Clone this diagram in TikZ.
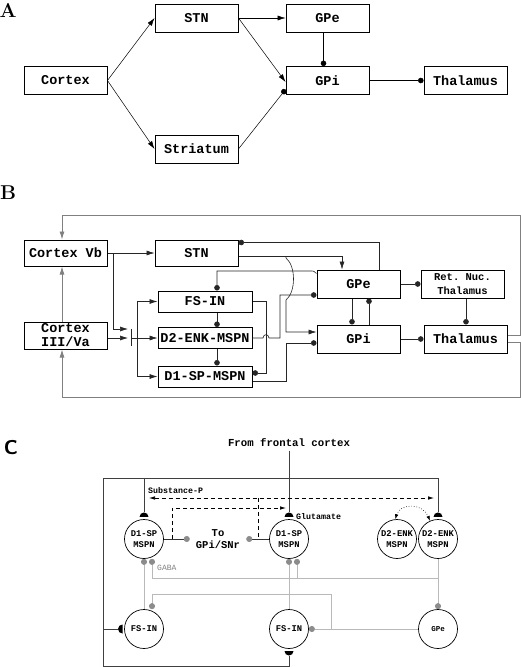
\documentclass[tikz,border=0pt]{standalone}
\usepackage{fontspec}
\setmonofont{Liberation Mono}
\usepackage{tikz}
\usetikzlibrary{positioning}
\usetikzlibrary{arrows.meta,shapes.geometric}

\begin{document}
\begin{tikzpicture}[x=1pt,y=-1pt,
  boxA/.style={draw,line width=0.9pt,inner sep=0pt,minimum width=83pt,minimum height=28pt,font=\fontsize{13.5}{15}\selectfont\ttfamily\bfseries},
  boxB/.style={draw,line width=1pt,inner sep=0pt,minimum width=83pt,minimum height=28pt,align=center,font=\fontsize{13.5}{14}\selectfont\ttfamily\bfseries},
  cell/.style={draw,circle,line width=0.7pt,inner sep=0pt,minimum size=39pt,align=center,font=\fontsize{8.8}{11}\selectfont\ttfamily\bfseries},
  syn/.style={semicircle,fill=black,inner sep=0pt,minimum width=9pt,minimum height=4.5pt,anchor=chord center},
  sec/.style={font=\fontsize{20}{20}\selectfont\bfseries},
  exc/.style={-{Latex[length=8pt,width=5pt]}},
  inh/.style={-{Circle[length=5.5pt]}},
  lineA/.style={line width=0.5pt},
  lineB/.style={line width=0.6pt,black!85},
  loopB/.style={line width=0.8pt,gray},
  frameC/.style={line width=0.7pt,black!75},
  gabaC/.style={line width=0.7pt,gray!55,-{Circle[length=6pt,color=gray!90]}},
  dashC/.style={line width=0.6pt,dash pattern=on 4pt off 3pt}]

\useasboundingbox (0,0) rectangle (521,667);

% A
\node[sec] (labA) at (8,10) {A};
\node[boxA] (cortexA) at (65.5,80.5) {Cortex};
\node[boxA] (stnA) at (196.5,18) {STN};
\node[boxA] (gpeA) at (327.5,18) {GPe};
\node[boxA] (gpiA) at (327.5,80.5) {GPi};
\node[boxA] (thalA) at (465.5,80.5) {Thalamus};
\node[boxA] (striA) at (196.5,149) {Striatum};

\draw[lineA,exc] (cortexA.east) -- (stnA.west);
\draw[lineA,exc] (cortexA.east) -- (striA.west);
\draw[lineA,exc] (stnA.east) -- (gpeA.west);
\draw[lineA,exc] (stnA.east) -- ([yshift=-1.5pt]gpiA.west);
\draw[lineA,inh] (striA.east) -- ([yshift=-9pt]gpiA.west);
\draw[lineA,inh] ([xshift=-4pt]gpeA.south) -- ([xshift=-4pt]gpiA.north);
\draw[lineA,inh] (gpiA.east) -- (thalA.west);

% B
\node[sec] (labB) at (8,193) {B};
\node[boxB,minimum height=26pt] (cvb) at (65.5,253) {Cortex Vb};
\node[boxB,minimum height=27pt] (cva) at (65.5,335.5) {Cortex\\III/Va};
\node[boxB,minimum height=26pt] (stnB) at (196.5,253) {STN};
\node[boxB,minimum width=94pt,minimum height=21pt] (fsB) at (205,301.5) {FS-IN};
\node[boxB,minimum width=94pt,minimum height=21pt] (d2B) at (205,338) {D2-ENK-MSPN};
\node[boxB,minimum width=94pt,minimum height=21pt] (d1B) at (205,376.5) {D1-SP-MSPN};
\node[boxB] (gpeB) at (358.5,284) {GPe};
\node[boxB] (gpiB) at (358.5,339) {GPi};
\node[boxB,font=\fontsize{10.5}{14}\selectfont\ttfamily\bfseries] (retB) at (462.5,284) {Ret. Nuc.\\Thalamus};
\node[boxB] (thalB) at (465.5,339) {Thalamus};

\coordinate (topR) at (520,215);
\coordinate (botR) at (520,397);
\coordinate (barT) at (131,329);
\coordinate (barM) at (131,338);
\coordinate (barB) at (131,346);
\coordinate (split) at (137,338);
\coordinate (hopT) at (286,256);

\draw[loopB,exc] ([yshift=4pt]thalB.east) -| (topR) -| ([xshift=-3.5pt]cvb.north);
\draw[loopB,exc] ([yshift=-3pt]thalB.east) -| (botR) -| ([xshift=-3.5pt]cva.south);
\draw[loopB,exc] ([xshift=-3.5pt]cva.north) -- ([xshift=-3.5pt]cvb.south);

\draw[lineB,exc] (cvb.east) -- (stnB.west);
\draw[lineB,exc] (cvb.east) -- ++(6,0) |- ([xshift=-3pt]barT);
\draw[lineB,exc] ([yshift=-2.5pt]cva.east) -- ([xshift=-3pt]barM);
\draw[lineB] (barT) -- (barB);
\draw[lineB,exc] (barM) -- (d2B.west);
\draw[lineB,exc] (split) |- (fsB.west);
\draw[lineB,exc] (split) |- (d1B.west);

\draw[lineB,inh] ([xshift=12pt]fsB.south) -- ([xshift=12pt]d2B.north);
\draw[lineB,inh] ([xshift=12pt]d2B.south) -- ([xshift=12pt]d1B.north);
\draw[lineB,inh] ([yshift=-4pt]gpeB.north west) .. controls (314,271) .. (310,271) -| ([xshift=12pt]fsB.north);
\draw[lineB,inh] ([xshift=20.5pt]gpeB.north) |- ([yshift=-3pt]stnB.north east);
\draw[lineB,exc] ([yshift=-3pt]stnB.east) -| ([xshift=-16.5pt]gpeB.north);
\draw[lineB,exc] (hopT) -- (286,258) .. controls (296,266) and (296,292) .. (286,300) |- ([yshift=7pt]gpiB.west);
\draw[lineB,inh] (d2B.east) -- (263,338) .. controls (263.5,333.5) and (268.5,333.5) .. (269,338) -- (280,338) |- ([yshift=-11pt]gpeB.west);
\draw[lineB,inh] (fsB.east) -- (266,301.5) |- ([yshift=3.5pt]d1B.east);
\draw[lineB,inh] ([yshift=-4.5pt]d1B.east) -| (286,343) -- ([yshift=-4pt]gpiB.west);
\draw[lineB,inh] ([xshift=-6.5pt]gpeB.south) -- ([xshift=-6.5pt]gpiB.north);
\draw[lineB,inh] ([xshift=10.5pt]gpiB.north) -- ([xshift=10.5pt]gpeB.south);
\draw[lineB,inh] (gpeB.east) -- (retB.west);
\draw[lineB,inh] ([xshift=3.5pt]retB.south) -- ([xshift=0.5pt]thalB.north);
\draw[lineB,inh] (gpiB.east) -- (thalB.west);

% C
\node[sec,font=\fontsize{20}{20}\selectfont\bfseries\sffamily] (labC) at (11,448) {C};
\node[font=\fontsize{10.7}{12}\selectfont\ttfamily\bfseries] (front) at (289,443) {From frontal cortex};
\node[cell] (d1L) at (144,539) {D1-SP\\MSPN};
\node[cell] (d1C) at (289,539) {D1-SP\\MSPN};
\node[cell] (d2L) at (397,539) {D2-ENK\\MSPN};
\node[cell] (d2R) at (438,539) {D2-ENK\\MSPN};
\node[cell] (fsL) at (144,629) {FS-IN};
\node[cell] (fsC) at (289,629) {FS-IN};
\node[cell,font=\fontsize{7.5}{10}\selectfont\ttfamily\bfseries] (gpeC) at (438,629) {GPe};
\node[inner sep=6pt,align=center,font=\fontsize{10.5}{12}\selectfont\ttfamily\bfseries] (togp) at (218,539) {To\\GPi/SNr};
\node[anchor=west,inner sep=0pt,font=\fontsize{8.3}{10}\selectfont\ttfamily\bfseries] (glu) at (296,517) {Glutamate};
\node[anchor=west,inner sep=0pt,font=\fontsize{8.3}{10}\selectfont\ttfamily\bfseries] (subp) at (148,491) {Substance-P};
\node[anchor=west,inner sep=0pt,text=gray,font=\fontsize{8}{10}\selectfont\ttfamily] (gaba) at (157,568) {GABA};

\node[syn] (synD1L) at ([yshift=2pt]d1L.north) {};
\node[syn] (synD1C) at ([yshift=2pt]d1C.north) {};
\node[syn] (synD2R) at ([yshift=2pt]d2R.north) {};
\node[syn,rotate=180] (synFSC) at ([yshift=-2pt]fsC.south) {};
% half disc left of the FS-IN cell
\fill (122.5,633.5) arc[start angle=90,end angle=270,radius=4.5] -- cycle;
\coordinate (synFSL) at (118,629);

\coordinate (fTL) at (103,478);
\coordinate (fBL) at (103,666);
\coordinate (spL) at (149,498);
\coordinate (spR) at (434,498);
\coordinate (spJ) at (258,498);
\coordinate (gluT) at (286,508);
\coordinate (gpeBr) at (331,629);

\draw[frameC] (synD2R) |- (fTL) -- (fBL) -| (synFSC);
\draw[frameC] (synD1L) -- (synD1L |- fTL);
\draw[frameC] (synFSL) -- (synFSL -| fTL);
\draw[frameC] (front) -- (synD1C);

\draw[line width=0.6pt,black!80,-{Circle[length=6pt,color=gray!90]}] (d1L) -- (togp);
\draw[line width=0.6pt,black!80,-{Circle[length=6pt,color=gray!90]}] (d1C) -- (togp);

\draw[dashC,{Latex[length=6pt,width=3.5pt]}-{Latex[length=6pt,width=3.5pt]}] (spL) -- (spR);
\draw[dashC] (spJ) -- (spJ |- togp);
\draw[dashC,-{Latex[length=6pt,width=3.5pt]}] (togp -| 172,0) -- (172,508) -- (gluT);
\draw[line width=0.6pt,dotted,{Latex[length=5pt,width=3.5pt]}-{Latex[length=5pt,width=3.5pt]}] (d2L.95) .. controls (400,503) and (423,503) .. (d2R.114);

\draw[gabaC] (fsL.north) -- (d1L.south);
\draw[gabaC] (fsC.north) -- (d1C.south);
\draw[gabaC] (d2R.south) -- (gpeC.north);
\draw[gabaC] (d2R.south) -- ++(0,19) -| ([xshift=8pt]d1L.south);
\draw[gabaC] (297,577.5) -- ([xshift=8pt]d1C.south);
\draw[gabaC] (gpeC) -- (fsC);
\draw[gabaC] (gpeBr) -- (331,594) -| ([xshift=8pt]fsL.north);
\end{tikzpicture}
\end{document}
